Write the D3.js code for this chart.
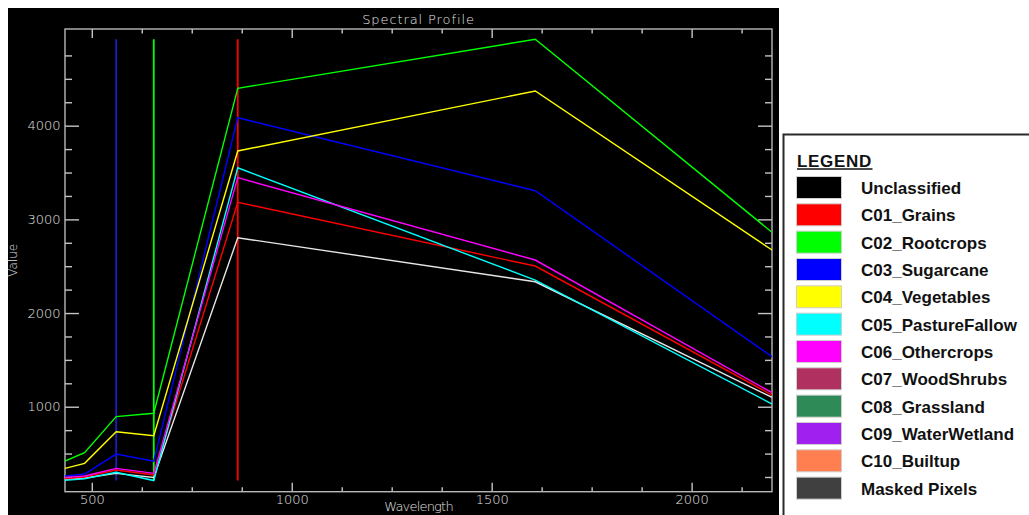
<!DOCTYPE html>
<html>
<head>
<meta charset="utf-8">
<script src="https://cdn.jsdelivr.net/npm/d3@7/dist/d3.min.js"></script>
<style>
  body { margin: 0; background: #fff; }
  svg { display: block; }
  .axis line { stroke: #c4c4c4; stroke-width: 1.4; }
  .axis text { fill: #e2e2e2; font-family: "DejaVu Sans", sans-serif; font-size: 13px; font-weight: 200; }
  .plot-text { fill: #e2e2e2; font-family: "DejaVu Sans", sans-serif; font-size: 13px; font-weight: 200; }
  .legend text { font-family: "Liberation Sans", Arial, sans-serif; font-weight: bold; font-size: 17px; fill: #111; }
</style>
</head>
<body>
<svg id="chart" width="1029" height="515"></svg>
<script>
// band centre wavelengths (nm)
var wavelengths = [433, 482, 561, 655, 865, 1609, 2201];

// spectra
var unclassified = [225, 240, 289, 245, 2804, 2334, 1100];
var grains       = [232, 248, 324, 271, 3182, 2502, 1125];
var rootcrops    = [420, 509, 895, 930, 4399, 4922, 2862];
var sugarcane    = [260, 282, 495, 420, 4085, 3306, 1534];
var vegetables   = [342, 396, 733, 690, 3730, 4370, 2673];
var pasture      = [215, 231, 300, 212, 3551, 2352, 1029];
var othercrops   = [246, 260, 342, 289, 3445, 2566, 1150];

var seriesNames  = ["Unclassified", "C01_Grains", "C02_Rootcrops", "C03_Sugarcane", "C04_Vegetables", "C05_PastureFallow", "C06_Othercrops"];
var seriesValues = [unclassified, grains, rootcrops, sugarcane, vegetables, pasture, othercrops];
var seriesColors = ["#e6e6e6", "#ff0000", "#00ff00", "#0000ff", "#ffff00", "#00ffff", "#ff00ff"];

// bands shown as R, G, B
var markerBands  = [865, 655, 561];
var markerColors = ["#ff0000", "#00ff00", "#1c1cc0"];

var xMajorTicks = [500, 1000, 1500, 2000];
var yMajorTicks = [1000, 2000, 3000, 4000];

var legendNames  = ["Unclassified", "C01_Grains", "C02_Rootcrops", "C03_Sugarcane", "C04_Vegetables",
  "C05_PastureFallow", "C06_Othercrops", "C07_WoodShrubs", "C08_Grassland", "C09_WaterWetland",
  "C10_Builtup", "Masked Pixels"];
var legendColors = ["#000000", "#ff0000", "#00ff00", "#0000ff", "#ffff00", "#00ffff", "#ff00ff",
  "#b03060", "#2e8b57", "#a020f0", "#ff7f50", "#404040"];

var svg = d3.select("#chart");

var plot = {left: 65, top: 29, right: 772, bottom: 491.7};

// black plot window
svg.append("rect")
  .attr("x", 8).attr("y", 8)
  .attr("width", 771).attr("height", 510)
  .attr("fill", "#000");

var x = d3.scaleLinear().domain([433, 2201]).range([plot.left, plot.right]);
var y = d3.scaleLinear().domain([93, 5032]).range([plot.bottom, plot.top]);

var xMinor = d3.range(500, 2201, 125).filter(function(d) { return xMajorTicks.indexOf(d) < 0; });
var yMinor = d3.range(250, 5000, 250).filter(function(d) { return yMajorTicks.indexOf(d) < 0; });

function addAxis(axis, tx, ty) {
  var g = svg.append("g")
    .attr("class", "axis")
    .attr("transform", "translate(" + tx + "," + ty + ")")
    .call(axis);
  g.select(".domain").remove();
  return g;
}

// bottom
addAxis(d3.axisBottom(x).tickValues(xMajorTicks).tickSize(-9).tickPadding(3).tickFormat(d3.format("d")), 0, plot.bottom);
addAxis(d3.axisBottom(x).tickValues(xMinor).tickSize(-4.5).tickFormat(""), 0, plot.bottom);
// top
addAxis(d3.axisTop(x).tickValues(xMajorTicks).tickSize(-9).tickFormat(""), 0, plot.top);
addAxis(d3.axisTop(x).tickValues(xMinor).tickSize(-4.5).tickFormat(""), 0, plot.top);
// left
addAxis(d3.axisLeft(y).tickValues(yMajorTicks).tickSize(-14).tickPadding(4.5).tickFormat(d3.format("d")), plot.left, 0);
addAxis(d3.axisLeft(y).tickValues(yMinor).tickSize(-7).tickFormat(""), plot.left, 0);
// right
addAxis(d3.axisRight(y).tickValues(yMajorTicks).tickSize(-14).tickFormat(""), plot.right, 0);
addAxis(d3.axisRight(y).tickValues(yMinor).tickSize(-7).tickFormat(""), plot.right, 0);

// frame
svg.append("rect")
  .attr("x", plot.left).attr("y", plot.top)
  .attr("width", plot.right - plot.left).attr("height", plot.bottom - plot.top)
  .attr("fill", "none")
  .attr("stroke", "#b8b8b8")
  .attr("stroke-width", 1.4);

svg.append("clipPath").attr("id", "clip")
  .append("rect")
  .attr("x", plot.left).attr("y", plot.top)
  .attr("width", plot.right - plot.left).attr("height", plot.bottom - plot.top);

var allValues = d3.merge(seriesValues);
var vMin = d3.min(allValues), vMax = d3.max(allValues);

var lines = svg.append("g").attr("clip-path", "url(#clip)");

// band markers
lines.selectAll(".marker")
  .data(markerBands)
  .enter().append("line")
  .attr("class", "marker")
  .attr("x1", function(d) { return x(d); })
  .attr("x2", function(d) { return x(d); })
  .attr("y1", y(vMin))
  .attr("y2", y(vMax))
  .attr("stroke", function(d, i) { return markerColors[i]; })
  .attr("stroke-width", 1.8);

var line = d3.line()
  .x(function(d, i) { return x(wavelengths[i]); })
  .y(function(d) { return y(d); });

lines.selectAll(".spectrum")
  .data(seriesValues)
  .enter().append("path")
  .attr("class", "spectrum")
  .attr("d", line)
  .attr("fill", "none")
  .attr("stroke", function(d, i) { return seriesColors[i]; })
  .attr("stroke-width", 1.4);

// titles
svg.append("text")
  .attr("class", "plot-text")
  .attr("x", (plot.left + plot.right) / 2)
  .attr("y", 24)
  .attr("text-anchor", "middle")
  .style("letter-spacing", "0.9px")
  .text("Spectral Profile");

svg.append("text")
  .attr("class", "plot-text")
  .attr("x", (plot.left + plot.right) / 2)
  .attr("y", 511)
  .attr("text-anchor", "middle")
  .style("letter-spacing", "-0.8px")
  .text("Wavelength");

svg.append("text")
  .attr("class", "plot-text")
  .attr("transform", "translate(17," + ((plot.top + plot.bottom) / 2) + ") rotate(-90)")
  .attr("text-anchor", "middle")
  .style("font-size", "12px")
  .text("Value");

// legend
var legend = svg.append("g").attr("class", "legend");

legend.append("rect")
  .attr("x", 783.5).attr("y", 134.5)
  .attr("width", 260).attr("height", 400)
  .attr("fill", "#fff")
  .attr("stroke", "#2a2a2a")
  .attr("stroke-width", 2);

legend.append("text")
  .attr("x", 797).attr("y", 166.5)
  .style("letter-spacing", "0.7px")
  .text("LEGEND");

legend.append("line")
  .attr("x1", 797).attr("x2", 872.5)
  .attr("y1", 169).attr("y2", 169)
  .attr("stroke", "#111")
  .attr("stroke-width", 1.4);

var rowY = d3.scaleLinear().domain([0, 1]).range([176, 176 + 27.33]);

var rows = legend.selectAll(".row")
  .data(legendNames)
  .enter().append("g")
  .attr("class", "row")
  .attr("transform", function(d, i) { return "translate(0," + rowY(i) + ")"; });

rows.append("rect")
  .attr("x", 796.5).attr("y", 0.5)
  .attr("width", 45).attr("height", 22)
  .attr("fill", function(d, i) { return legendColors[i]; })
  .attr("stroke", "#cfcfcf")
  .attr("stroke-width", 1);

rows.append("text")
  .attr("x", 861).attr("y", 18)
  .text(function(d) { return d; });
</script>
</body>
</html>
